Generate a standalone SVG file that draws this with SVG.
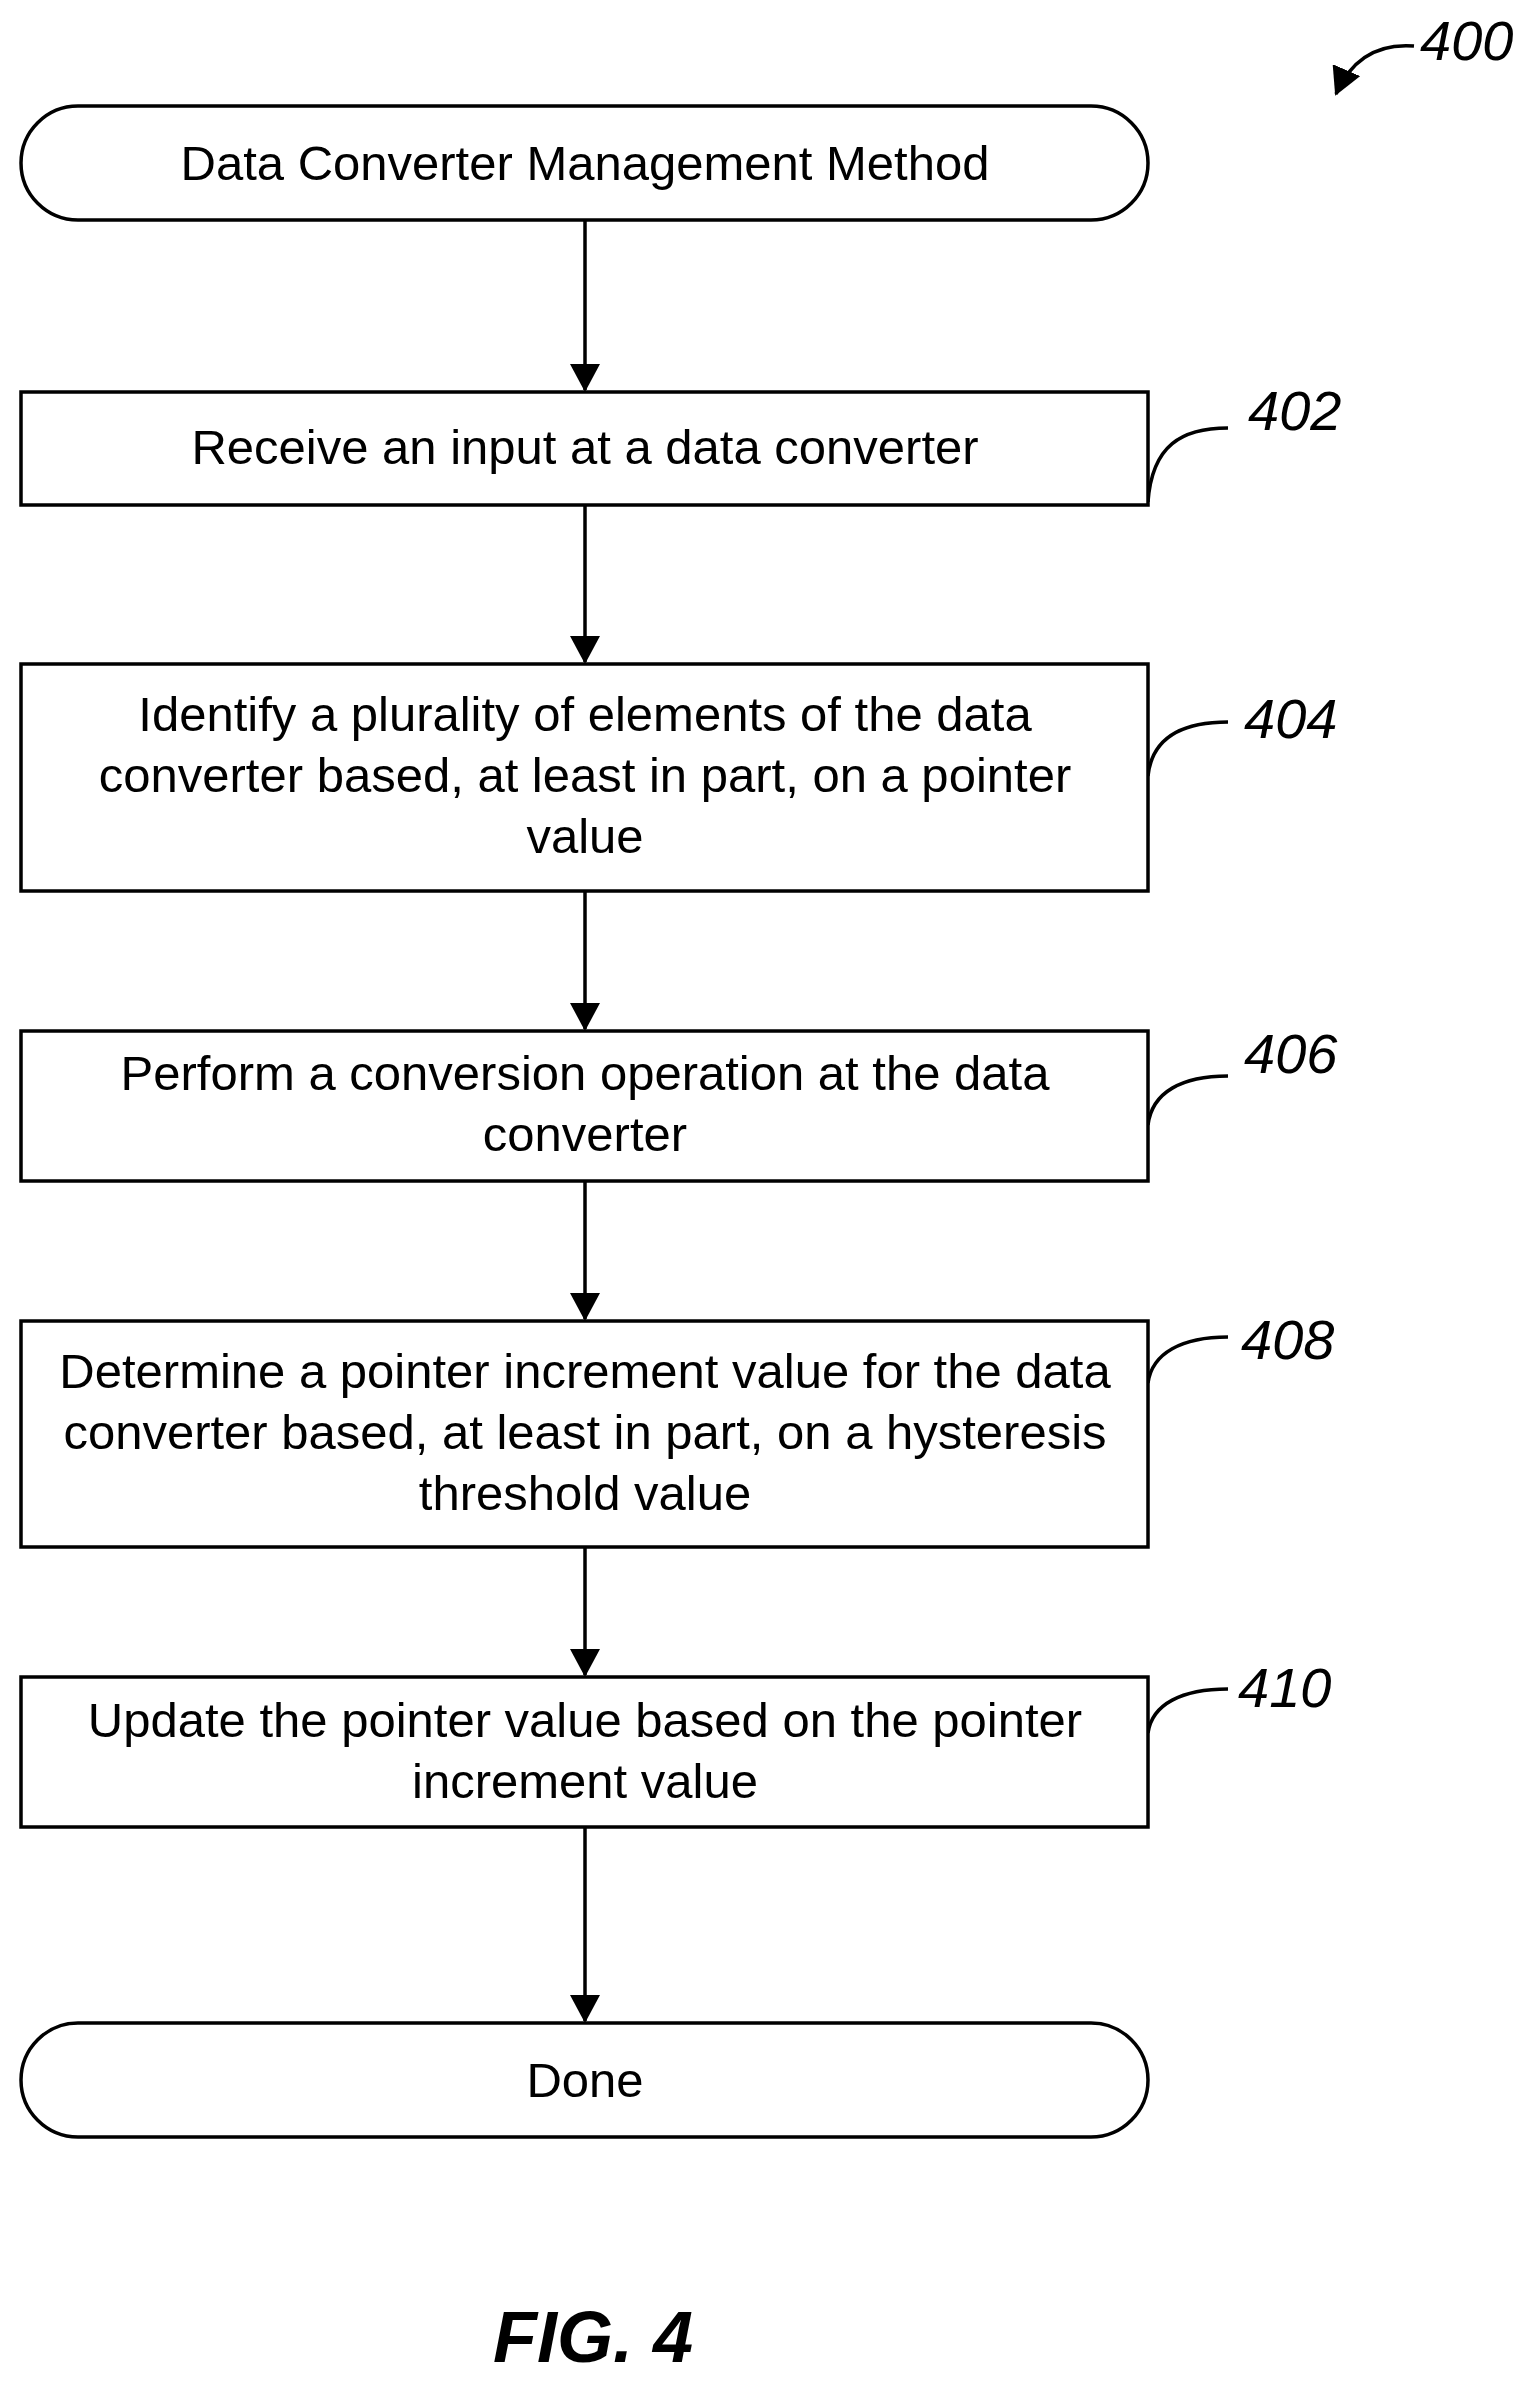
<svg xmlns="http://www.w3.org/2000/svg" width="1540" height="2383" viewBox="0 0 1540 2383">
<style>
.b{fill:#fff;stroke:#000;stroke-width:3.5}
.t{font-family:"Liberation Sans",Arial,sans-serif;font-size:49px;text-anchor:middle;fill:#000}
.r{font-family:"Liberation Sans",Arial,sans-serif;font-size:56px;font-style:italic;fill:#000}
.c{fill:none;stroke:#000;stroke-width:3.5}
</style>
<defs>
<marker id="a2" markerWidth="28" markerHeight="30" refX="26" refY="15" orient="auto" markerUnits="userSpaceOnUse" viewBox="0 0 28 30"><path d="M0,0 L28,15 L0,30 Z"/></marker></defs>
<rect width="1540" height="2383" fill="#fff"/>
<g id="connectors">
<line class="c" x1="585" y1="220" x2="585" y2="390" marker-end="url(#a2)"/>
<line class="c" x1="585" y1="505" x2="585" y2="662" marker-end="url(#a2)"/>
<line class="c" x1="585" y1="891" x2="585" y2="1029" marker-end="url(#a2)"/>
<line class="c" x1="585" y1="1181" x2="585" y2="1319" marker-end="url(#a2)"/>
<line class="c" x1="585" y1="1547" x2="585" y2="1675" marker-end="url(#a2)"/>
<line class="c" x1="585" y1="1827" x2="585" y2="2021" marker-end="url(#a2)"/>
<path class="c" d="M1148,502 C1152,445 1182,428 1228,428"/>
<path class="c" d="M1148,776 C1152,738 1182,722 1228,722"/>
<path class="c" d="M1148,1125 C1152,1092 1182,1076 1228,1076"/>
<path class="c" d="M1148,1383 C1152,1353 1182,1337 1228,1337"/>
<path class="c" d="M1148,1733 C1152,1704 1182,1689 1228,1689"/>
<path class="c" d="M1414,46 C1375,43 1350,62 1336,94" marker-end="url(#a2)"/>
</g>
<g id="start"><rect class="b" x="21" y="106" width="1127" height="114" rx="57"/><text class="t" x="585" y="180">Data Converter Management Method</text></g>
<g id="n402"><rect class="b" x="21" y="392" width="1127" height="113"/><text class="t" x="585" y="464">Receive an input at a data converter</text><text class="r" x="1248" y="430">402</text></g>
<g id="n404"><rect class="b" x="21" y="664" width="1127" height="227"/><text class="t" x="585" y="731">Identify a plurality of elements of the data</text><text class="t" x="585" y="792">converter based, at least in part, on a pointer</text><text class="t" x="585" y="853">value</text><text class="r" x="1244" y="738">404</text></g>
<g id="n406"><rect class="b" x="21" y="1031" width="1127" height="150"/><text class="t" x="585" y="1090">Perform a conversion operation at the data</text><text class="t" x="585" y="1151">converter</text><text class="r" x="1244" y="1073">406</text></g>
<g id="n408"><rect class="b" x="21" y="1321" width="1127" height="226"/><text class="t" x="585" y="1388">Determine a pointer increment value for the data</text><text class="t" x="585" y="1449">converter based, at least in part, on a hysteresis</text><text class="t" x="585" y="1510">threshold value</text><text class="r" x="1241" y="1359">408</text></g>
<g id="n410"><rect class="b" x="21" y="1677" width="1127" height="150"/><text class="t" x="585" y="1737">Update the pointer value based on the pointer</text><text class="t" x="585" y="1798">increment value</text><text class="r" x="1238" y="1707">410</text></g>
<g id="done"><rect class="b" x="21" y="2023" width="1127" height="114" rx="57"/><text class="t" x="585" y="2097">Done</text></g>
<text class="r" x="1420" y="60">400</text>
<text x="593" y="2362" style="font-family:'Liberation Sans',Arial,sans-serif;font-size:72px;font-style:italic;font-weight:bold;text-anchor:middle">FIG. 4</text>
</svg>
